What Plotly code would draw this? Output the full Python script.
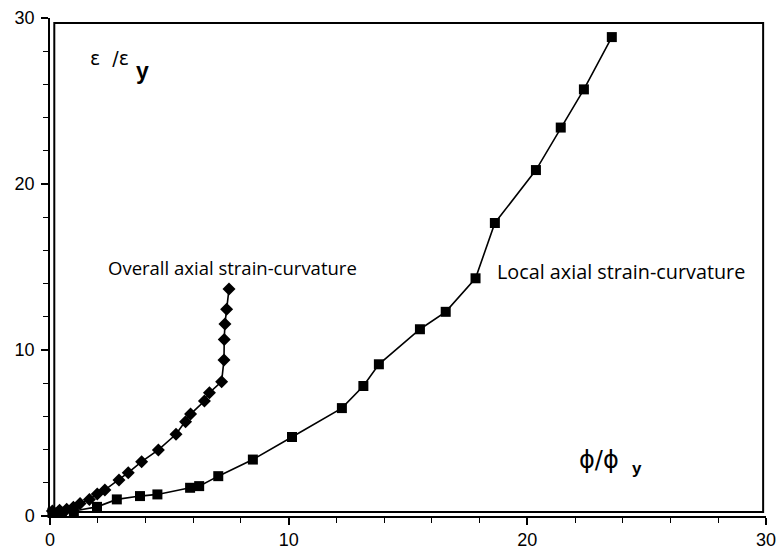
import plotly.graph_objects as go

# Local axial strain-curvature (square markers)
local_phi = [0.1, 0.5, 1.0, 1.97, 2.8, 3.77, 4.5, 5.87, 6.25, 7.05, 8.5, 10.14,
             12.23, 13.13, 13.78, 15.5, 16.58, 17.83, 18.64, 20.36, 21.4, 22.37, 23.54]
local_eps = [0.2, 0.25, 0.3, 0.55, 1.0, 1.2, 1.3, 1.7, 1.8, 2.4, 3.4, 4.76,
             6.5, 7.83, 9.14, 11.25, 12.3, 14.32, 17.65, 20.84, 23.4, 25.7, 28.85]

# Overall axial strain-curvature (diamond markers)
overall_phi = [0.1, 0.4, 0.7, 0.98, 1.26, 1.65, 1.98, 2.3, 2.89, 3.28, 3.84, 4.54,
               5.28, 5.68, 5.89, 6.47, 6.68, 7.19, 7.29, 7.3, 7.33, 7.4, 7.5]
overall_eps = [0.3, 0.35, 0.4, 0.52, 0.76, 1.0, 1.33, 1.57, 2.17, 2.61, 3.27, 3.98,
               4.92, 5.68, 6.14, 6.93, 7.43, 8.09, 9.4, 10.64, 11.57, 12.45, 13.67]

x_ticks = [0, 10, 20, 30]
y_ticks = [0, 10, 20, 30]

fig = go.Figure()
fig.add_trace(go.Scatter(
    x=local_phi, y=local_eps, mode="lines+markers",
    line=dict(color="black", width=1.6),
    marker=dict(symbol="square", size=10, color="black"),
    showlegend=False, cliponaxis=False))
fig.add_trace(go.Scatter(
    x=overall_phi, y=overall_eps, mode="lines+markers",
    line=dict(color="black", width=1.6),
    marker=dict(symbol="diamond", size=10, color="black"),
    showlegend=False, cliponaxis=False))

fig.add_annotation(x=2.35, y=15.0, text="Overall axial strain-curvature",
                   showarrow=False, xanchor="left", yanchor="middle",
                   font=dict(family="Open Sans, Noto Sans, sans-serif", size=18.5, color="black"))
fig.add_annotation(x=18.65, y=14.7, text="Local axial strain-curvature",
                   showarrow=False, xanchor="left", yanchor="middle",
                   font=dict(family="Open Sans, Noto Sans, sans-serif", size=19.8, color="black"))

# Axis titles placed inside the frame
fig.add_annotation(xref="paper", yref="paper", x=0.053, y=0.92,
                   text="ε  /ε", showarrow=False, xanchor="left", yanchor="middle",
                   font=dict(family="DejaVu Sans, sans-serif", size=19, color="black"))
fig.add_annotation(xref="paper", yref="paper", x=0.117, y=0.893,
                   text="<b>y</b>", showarrow=False, xanchor="left", yanchor="middle",
                   font=dict(family="Liberation Sans, Arial, sans-serif", size=23, color="black"))
fig.add_annotation(xref="paper", yref="paper", x=0.736, y=0.113,
                   text="ϕ/ϕ", showarrow=False, xanchor="left", yanchor="middle",
                   font=dict(family="DejaVu Sans, sans-serif", size=24, color="black"))
fig.add_annotation(xref="paper", yref="paper", x=0.81, y=0.095,
                   text="<b>y</b>", showarrow=False, xanchor="left", yanchor="middle",
                   font=dict(family="Liberation Sans, Arial, sans-serif", size=17, color="black"))

# Inner frame box
fig.add_shape(type="rect", xref="paper", yref="paper",
              x0=0.006, x1=0.996, y0=0.008, y1=0.99,
              line=dict(color="black", width=2))

axis_common = dict(
    showgrid=False, zeroline=False, showline=True, linecolor="black", linewidth=1.5,
    ticks="outside", ticklen=7, tickwidth=1.5, tickcolor="black",
    minor=dict(dtick=2, ticks="outside", ticklen=5, tickwidth=1.2, tickcolor="black"),
    tickfont=dict(family="Liberation Sans, Arial, sans-serif", size=18, color="black"),
    automargin=False,
)
fig.update_xaxes(range=[0, 30], tickvals=x_ticks, ticklabelstandoff=0, **axis_common)
fig.update_yaxes(range=[0, 30], tickvals=y_ticks, ticklabelstandoff=3, **axis_common)

fig.update_layout(
    width=777, height=554,
    margin=dict(l=50, r=11, t=18, b=38),
    paper_bgcolor="white", plot_bgcolor="white",
)

fig.write_html("out.html")
